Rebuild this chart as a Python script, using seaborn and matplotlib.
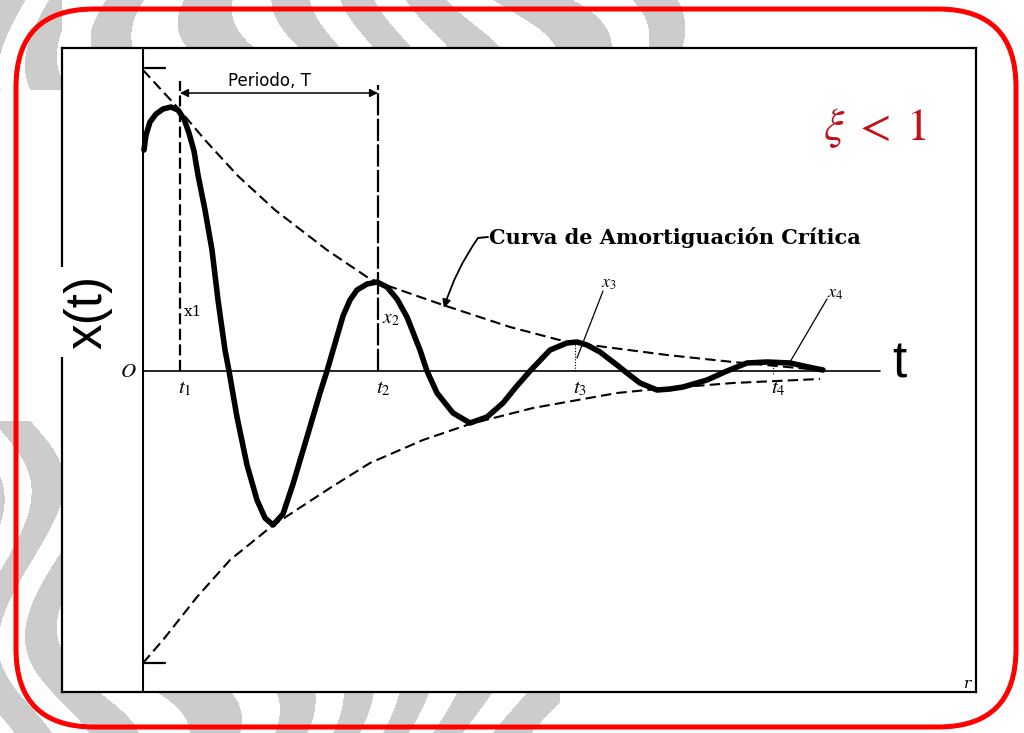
import numpy as np
import pandas as pd
import matplotlib
matplotlib.use("Agg")
import matplotlib.pyplot as plt
from matplotlib.patches import FancyBboxPatch
import seaborn as sns

# Underdamped response x(t); t and x in plot units, origin O at (0, 0)
t_resp = [0.01, 0.03, 0.07, 0.13, 0.20, 0.28, 0.35, 0.41, 0.46, 0.51, 0.55, 0.62, 0.69, 0.75,
          0.82, 0.86, 0.94, 1.04, 1.14, 1.22, 1.30, 1.40, 1.50, 1.64, 1.77, 1.84,
          1.93, 2.00, 2.07, 2.14, 2.24, 2.34, 2.44, 2.54, 2.64, 2.77, 2.84, 2.94,
          3.10, 3.27, 3.44, 3.60, 3.73, 3.87, 4.07, 4.24, 4.34, 4.44, 4.57, 4.74,
          4.84, 4.97, 5.14, 5.27, 5.40, 5.64, 5.84, 6.04, 6.24, 6.47, 6.70, 6.80]
x_resp = [2.21, 2.36, 2.49, 2.57, 2.62, 2.64, 2.61, 2.52, 2.38, 2.20, 1.96, 1.61, 1.21, 0.71,
          0.21, 0.00, -0.46, -0.94, -1.29, -1.47, -1.54, -1.43, -1.13, -0.66, -0.22, 0.00,
          0.31, 0.55, 0.71, 0.81, 0.87, 0.89, 0.84, 0.72, 0.54, 0.21, 0.00, -0.22,
          -0.42, -0.52, -0.46, -0.32, -0.16, 0.00, 0.21, 0.28, 0.29, 0.26, 0.19, 0.06,
          -0.02, -0.12, -0.19, -0.18, -0.16, -0.09, 0.00, 0.08, 0.09, 0.08, 0.03, 0.01]

# Decay envelopes (upper and lower)
t_env_up = [0.00, 0.35, 0.62, 0.95, 1.32, 1.84, 2.24, 2.34, 3.00, 3.67, 4.24, 5.24, 5.90, 6.77]
x_env_up = [3.01, 2.63, 2.31, 1.95, 1.61, 1.21, 0.94, 0.89, 0.66, 0.44, 0.29, 0.16, 0.09, 0.01]
t_env_lo = [0.00, 0.20, 0.54, 0.87, 1.29, 1.87, 2.27, 2.80, 3.27, 3.90, 4.74, 5.14, 5.90, 6.77]
x_env_lo = [-2.92, -2.69, -2.26, -1.89, -1.55, -1.17, -0.92, -0.69, -0.53, -0.37, -0.22, -0.18, -0.12, -0.08]

# Peak instants and their labels
t_peaks = [0.37, 2.35, 4.32, 6.30]
t_names = ["$t_1$", "$t_2$", "$t_3$", "$t_4$"]
x_names = ["x1", "$x_2$", "$x_3$", "$x_4$"]

resp = pd.DataFrame({"t": t_resp, "x": x_resp})
env_up = pd.DataFrame({"t": t_env_up, "x": x_env_up})
env_lo = pd.DataFrame({"t": t_env_lo, "x": x_env_lo})

sns.set_style("white")
plt.rcParams["font.family"] = ["DejaVu Sans"]
plt.rcParams["mathtext.fontset"] = "stix"

W, H = 1024, 733
fig = plt.figure(figsize=(W / 100, H / 100), dpi=100)

# Slide background with a light grey grain pattern and the red rounded frame
ax_bg = fig.add_axes([0, 0, 1, 1], zorder=0)
ax_bg.set_xlim(0, W)
ax_bg.set_ylim(H, 0)
ax_bg.axis("off")
yy, xx = np.mgrid[0:H, 0:W]
wave = np.sin(0.085 * xx + 3.5 * np.sin(0.022 * yy + 0.006 * xx) + 1.5 * np.sin(0.017 * xx))
region = (((yy < 55) & (xx > 90) & (xx < 700)) | ((yy > 690) & (xx < 560))
          | ((xx < 62) & (yy > 420)) | ((xx < 62) & (yy < 90)))
tex = np.where((wave > -0.1) & region, 0.80, 1.0)
ax_bg.imshow(tex, cmap="gray", vmin=0, vmax=1, extent=(0, W, H, 0),
             interpolation="bilinear", aspect="auto")
ax_bg.add_patch(FancyBboxPatch((16, 9), 1000, 718,
                               boxstyle="round,pad=0,rounding_size=78",
                               fill=False, edgecolor="#FF0000", linewidth=3.6))

# Plot panel
ax = fig.add_axes([62 / W, 1 - 692 / H, 914 / W, 644 / H], zorder=1)
ax.set_facecolor("white")
ax.set_xlim(-0.81, 8.33)
ax.set_ylim(-3.21, 3.23)
ax.set_xticks([])
ax.set_yticks([])
for sp in ax.spines.values():
    sp.set_visible(True)
    sp.set_color("black")
    sp.set_linewidth(1.6)

# Coordinate axes
ax.plot([0, 0], [-3.21, 3.23], color="black", lw=1.5, zorder=2)
ax.plot([0, 7.37], [0, 0], color="black", lw=1.2, zorder=2)

# Envelopes
sns.lineplot(data=env_up, x="t", y="x", ax=ax, color="black", lw=1.5,
             sort=False, estimator=None, zorder=3)
ax.lines[-1].set_linestyle((0, (5, 2.5)))
sns.lineplot(data=env_lo, x="t", y="x", ax=ax, color="black", lw=1.5,
             sort=False, estimator=None, zorder=3)
ax.lines[-1].set_linestyle((0, (5, 2.5)))
ax.plot([0.02, 0.22], [3.03, 3.03], color="black", lw=1.6)
ax.plot([0.00, 0.22], [-2.92, -2.92], color="black", lw=1.6)

# Response
sns.lineplot(data=resp, x="t", y="x", ax=ax, color="black", lw=4.0,
             sort=False, estimator=None, zorder=4)
ax.lines[-1].set_solid_joinstyle("round")
ax.lines[-1].set_solid_capstyle("round")
ax.set_xlabel("")
ax.set_ylabel("")

# Period markers
ax.plot([t_peaks[0], t_peaks[0]], [0, 2.90], color="black", lw=1.6,
        ls=(0, (5, 2)), zorder=2)
ax.plot([t_peaks[1], t_peaks[1]], [0, 2.86], color="black", lw=1.6,
        ls=(0, (10, 1.5)), zorder=2)
ax.plot([t_peaks[2], t_peaks[2]], [0, 0.28], color="black", lw=0.8,
        ls=(0, (1, 1.5)), zorder=2)
ax.plot([t_peaks[3], t_peaks[3]], [-0.03, 0.08], color="black", lw=0.8,
        ls=(0, (1, 1.5)), zorder=2)
ax.annotate("", xy=(t_peaks[0], 2.78), xytext=(t_peaks[1], 2.78),
            arrowprops=dict(arrowstyle="<|-|>", color="black", lw=1.1,
                            mutation_scale=12, shrinkA=0, shrinkB=0))
ax.text((t_peaks[0] + t_peaks[1]) / 2 - 0.1, 2.90, "Periodo, T", ha="center",
        va="center", fontsize=12, color="black",
        bbox=dict(facecolor="white", edgecolor="none", pad=0.5))

# Axis labels on the panel
ax.text(-0.15, 0.0, "$O$", ha="center", va="center", fontsize=15, color="black")
for tp, name in zip(t_peaks, t_names):
    ax.text(tp + 0.05, -0.17, name, ha="center", va="center", fontsize=15, color="black")
ax.text(0.50, 0.59, x_names[0], ha="center", va="center", fontsize=11,
        family="DejaVu Serif", color="black")
ax.text(2.48, 0.53, x_names[1], ha="center", va="center", fontsize=14, color="black")
ax.text(4.66, 0.88, x_names[2], ha="center", va="center", fontsize=13, color="black")
ax.plot([4.60, 4.34], [0.80, 0.13], color="black", lw=0.9)
ax.text(6.92, 0.78, x_names[3], ha="center", va="center", fontsize=13, color="black")
ax.plot([6.84, 6.47], [0.72, 0.09], color="black", lw=0.9)

# Envelope callout
ax.text(3.46, 1.34, "Curva de Amortiguación Crítica", ha="left", va="center",
        fontsize=15, family="DejaVu Serif", weight="bold", color="black")
ax.plot([3.35, 3.45], [1.33, 1.34], color="black", lw=1.4)
ax.annotate("", xy=(3.01, 0.63), xytext=(3.35, 1.33),
            arrowprops=dict(arrowstyle="-|>", color="black", lw=1.3,
                            mutation_scale=12, shrinkA=0, shrinkB=0,
                            connectionstyle="arc3,rad=0.08"))

ax.text(8.25, -3.13, "r", ha="center", va="center", fontsize=11,
        family="DejaVu Serif", style="italic", color="black")

# Damping condition
ax.text(7.32, 2.43, r"$\xi \;<\; 1$", ha="center", va="center", fontsize=33,
        color="#C0101A")

# Large axis names
fig.text(88 / W, 1 - 312 / H, "x(t)", rotation=90, ha="center", va="center",
         fontsize=37, family="Liberation Sans", color="black", zorder=5,
         bbox=dict(facecolor="white", edgecolor="none", pad=6))
fig.text(899 / W, 1 - 364 / H, "t", ha="center", va="center",
         fontsize=37, family="Liberation Sans", color="black", zorder=5)

fig.savefig("out.png", dpi=100)
